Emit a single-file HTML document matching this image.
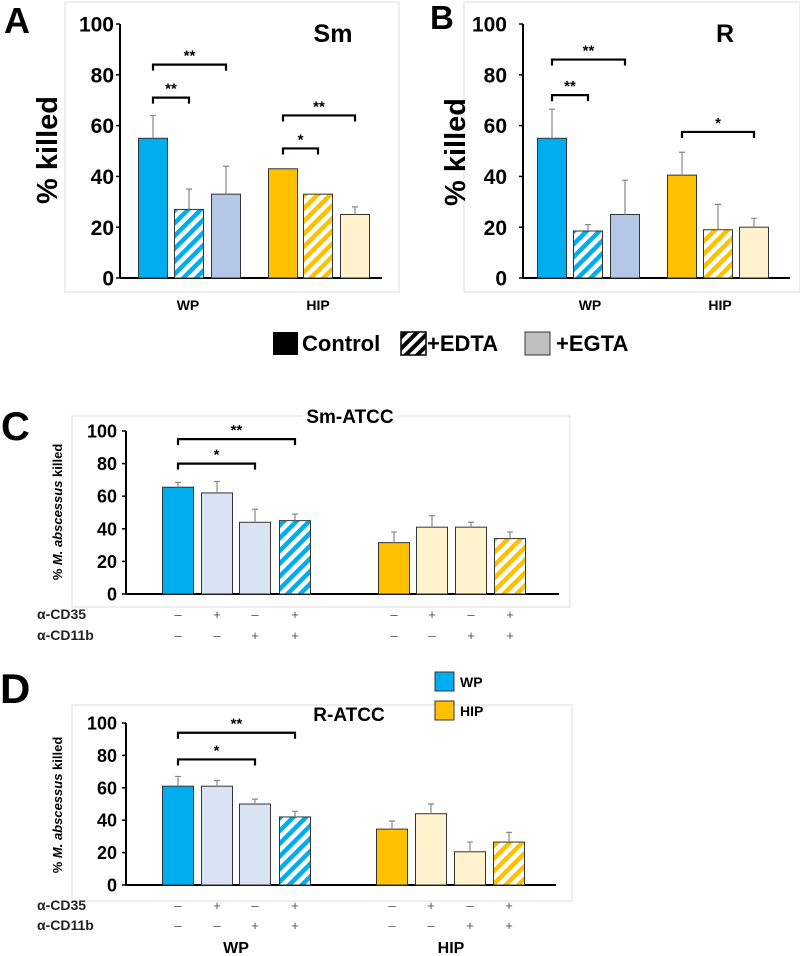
<!DOCTYPE html>
<html><head><meta charset="utf-8"><style>
html,body{margin:0;padding:0;background:#fff;}
svg{display:block;font-family:"Liberation Sans",sans-serif;}
</style></head><body>
<svg id="fig" width="800" height="956" viewBox="0 0 800 956" xmlns="http://www.w3.org/2000/svg">
<defs>
<pattern id="hb" patternUnits="userSpaceOnUse" width="9" height="9" patternTransform="rotate(45)"><rect width="9" height="9" fill="#fff"/><rect width="4.5" height="9" fill="#00AEEF"/></pattern>
<pattern id="ho" patternUnits="userSpaceOnUse" width="9" height="9" patternTransform="rotate(45)"><rect width="9" height="9" fill="#fff"/><rect width="4.5" height="9" fill="#FFC000"/></pattern>
<pattern id="hk" patternUnits="userSpaceOnUse" width="8" height="8" patternTransform="rotate(45)"><rect width="8" height="8" fill="#fff"/><rect width="4" height="8" fill="#000"/></pattern>
</defs>
</svg>
<script>
// ---- data ----
const abCategories = ["WP-Control","WP-EDTA","WP-EGTA","HIP-Control","HIP-EDTA","HIP-EGTA"];
const aValues = [55, 27, 33, 43, 33, 25];
const aErrors = [9, 8, 11, 0.3, 0, 3];
const bValues = [55, 18.5, 25, 40.5, 19, 20];
const bErrors = [11.5, 2.5, 13.5, 9, 10, 3.5];
const cdCategories = ["WP--","WP+-","WP-+","WP++","HIP--","HIP+-","HIP-+","HIP++"];
const cValues = [65.5, 62, 44, 45, 31.5, 41, 41, 34];
const cErrors = [3, 7, 8, 4, 6.5, 7, 3, 4];
const dValues = [61, 61, 50, 42, 34.5, 44, 20.5, 26.5];
const dErrors = [6, 3.5, 3, 3.5, 5, 6, 6, 6];
const yTicks = [0, 20, 40, 60, 80, 100];
const cd35Signs = ["–","+","–","+","–","+","–","+"];
const cd11Signs = ["–","–","+","+","–","–","+","+"];

const NS = "http://www.w3.org/2000/svg";
const svg = document.getElementById("fig");
function mk(tag, attrs, parent, txt){
  const e = document.createElementNS(NS, tag);
  for (const k in attrs) e.setAttribute(k, attrs[k]);
  if (txt !== undefined) e.textContent = txt;
  (parent || svg).appendChild(e);
  return e;
}
const abFills = ["#00AEEF","url(#hb)","#B4C7E7","#FFC000","url(#ho)","#FFF2CC"];
const cdFills = ["#00AEEF","#DAE3F3","#DAE3F3","url(#hb)","#FFC000","#FFF2CC","#FFF2CC","url(#ho)"];

function panel(p){
  const g = mk("g", {});
  
  
  const y = v => p.y0 - (p.y0 - p.y100) * v / 100;
  const fr = mk("rect", {x:p.fx, y:p.fy, width:p.fw, height:p.fh, fill:"none", stroke:"#e2e2e2", "stroke-width":1.2}, g);
  
  
  const ya = mk("line", {x1:p.ax, y1:p.y100, x2:p.ax, y2:p.y0, stroke:"#000", "stroke-width":2}, g);
  
  
  const xa = mk("line", {x1:p.ax, y1:p.y0, x2:p.xend, y2:p.y0, stroke:"#000", "stroke-width":2}, g);
  
  
  yTicks.forEach(t => {
    const tk = mk("line", {x1:p.ax-4, y1:y(t), x2:p.ax, y2:y(t), stroke:"#000", "stroke-width":1.5}, g);
    
    
    const tl = mk("text", {x:p.tlx, y:y(t)+p.tfs*0.36, "text-anchor":"end", "font-size":p.tfs, "font-weight":"bold", "font-family":p.tff}, g, String(t));
    
    
  });
  p.vals.forEach((v, i) => {
    const cx = p.cx[i];
    const b = mk("rect", {x:cx - p.bw/2, y:y(v), width:p.bw, height:p.y0 - y(v), fill:p.fills[i], stroke:"#333", "stroke-width":1}, g);
    
    
    const e = p.errs[i];
    if (e > 0.5) {
      const el = mk("path", {d:`M${cx} ${y(v)} V${y(v+e)} M${cx-3} ${y(v+e)} H${cx+3}`, stroke:"#888", "stroke-width":1.2, fill:"none"}, g);
      
      
    }
  });
  p.brackets.forEach(br => {
    const x1 = p.cx[br[0]], x2 = p.cx[br[1]], yy = y(br[2]);
    const pa = mk("path", {d:`M${x1} ${yy+6} V${yy} H${x2} V${yy+6}`, stroke:"#000", "stroke-width":2.2, fill:"none"}, g);
    
    
    const st = mk("text", {x:(x1+x2)/2, y:yy - 4, "text-anchor":"middle", "font-size":15, "font-weight":"bold"}, g, br[3]);
    
    
  });
  return g;
}

panel({name:"panel-a-sm", fx:65, fy:2, fw:334, fh:290, ax:120, y0:278, y100:24, xend:382,
  tlx:114, tfs:21, tff:"Liberation Sans",
  vals:aValues, errs:aErrors, cats:abCategories, fills:abFills, bw:29,
  cx:[153,189,226,283,318,355],
  brackets:[[0,2,84,"**"],[0,1,71,"**"],[3,5,64,"**"],[3,4,51,"*"]]});
panel({name:"panel-b-r", fx:464, fy:2, fw:336, fh:290, ax:523, y0:278, y100:24, xend:790,
  tlx:507, tfs:21, tff:"Liberation Sans",
  vals:bValues, errs:bErrors, cats:abCategories, fills:abFills, bw:29,
  cx:[552,588,625,682,718,754],
  brackets:[[0,2,86,"**"],[0,1,72,"**"],[3,5,57.5,"*"]]});
panel({name:"panel-c-sm-atcc", fx:72, fy:416, fw:498, fh:191, ax:126, y0:594, y100:431, xend:559,
  tlx:117, tfs:18, tff:"Liberation Sans Narrow, Liberation Sans",
  vals:cValues, errs:cErrors, cats:cdCategories, fills:cdFills, bw:31,
  cx:[178,217,255,295,394,432,471,510],
  brackets:[[0,3,95,"**"],[0,2,80,"*"]]});
panel({name:"panel-d-r-atcc", fx:72, fy:705, fw:500, fh:196, ax:126, y0:885, y100:723, xend:556,
  tlx:117, tfs:18, tff:"Liberation Sans Narrow, Liberation Sans",
  vals:dValues, errs:dErrors, cats:cdCategories, fills:cdFills, bw:31,
  cx:[178,217,255,295,392,431,470,509],
  brackets:[[0,3,94,"**"],[0,2,77.5,"*"]]});

function signs(yA, yB, cxs){
  [[yA, cd35Signs, "α-CD35"], [yB, cd11Signs, "α-CD11b"]].forEach(r => {
    const l = mk("text", {x:37, y:r[0]+5, "font-size":14, "font-weight":"bold", "font-family":"Liberation Sans Narrow, Liberation Sans", fill:"#222"}, svg, r[2]);
    
    
    r[1].forEach((s, i) => {
      const t = mk("text", {x:cxs[i], y:r[0]+5, "text-anchor":"middle", "font-size":13, fill:"#555"}, svg, s);
      
      
    });
  });
}
signs(614, 635, [178,217,255,295,394,432,471,510]);
signs(905, 925, [178,217,255,295,392,431,470,509]);
</script>
<svg style="position:absolute;left:0;top:0" width="800" height="956" xmlns="http://www.w3.org/2000/svg" font-family="Liberation Sans, sans-serif">
  <text x="4" y="33" font-size="36" font-weight="bold">A</text>
  <text x="430" y="29" font-size="33" font-weight="bold">B</text>
  <text x="1" y="440" font-size="40" font-weight="bold">C</text>
  <text x="0" y="703" font-size="42" font-weight="bold">D</text>
  <text x="333" y="42" font-size="25" font-weight="bold" text-anchor="middle">Sm</text>
  <text x="725" y="42" font-size="25" font-weight="bold" text-anchor="middle">R</text>
  <text transform="translate(57,150) rotate(-90)" font-size="29" font-weight="bold" text-anchor="middle">% killed</text>
  <text transform="translate(465,152) rotate(-90)" font-size="29" font-weight="bold" text-anchor="middle">% killed</text>
  <text x="188" y="310" font-size="14" font-weight="bold" text-anchor="middle">WP</text>
  <text x="318" y="310" font-size="14" font-weight="bold" text-anchor="middle">HIP</text>
  <text x="590" y="310" font-size="14" font-weight="bold" text-anchor="middle">WP</text>
  <text x="720" y="310" font-size="14" font-weight="bold" text-anchor="middle">HIP</text>
  <g>
    <rect x="273" y="332" width="25" height="23" fill="#000"/>
    <text x="302" y="351" font-size="22" font-weight="bold">Control</text>
    <rect x="401" y="332" width="25" height="23" fill="url(#hk)" stroke="#000" stroke-width="1.5"/>
    <text x="427" y="351" font-size="22" font-weight="bold">+EDTA</text>
    <rect x="525" y="332" width="25" height="23" fill="#bfbfbf" stroke="#333" stroke-width="1"/>
    <text x="556" y="351" font-size="22" font-weight="bold">+EGTA</text>
  </g>
  <rect x="303" y="404" width="94" height="22" fill="#fff"/>
  <text x="350" y="423" font-size="19" font-weight="bold" text-anchor="middle">Sm-ATCC</text>
  <text x="349" y="721" font-size="19" font-weight="bold" text-anchor="middle">R-ATCC</text>
  <text transform="translate(62,512) rotate(-90)" font-size="13" font-weight="bold" text-anchor="middle">% <tspan font-style="italic">M. abscessus</tspan> killed</text>
  <text transform="translate(62,805) rotate(-90)" font-size="13" font-weight="bold" text-anchor="middle">% <tspan font-style="italic">M. abscessus</tspan> killed</text>
  <g>
    <rect x="435" y="672" width="19" height="19" fill="#00AEEF" stroke="#333"/>
    <text x="460" y="687" font-size="14" font-weight="bold">WP</text>
    <rect x="435" y="701" width="19" height="19" fill="#FFC000" stroke="#333"/>
    <text x="460" y="716" font-size="14" font-weight="bold">HIP</text>
  </g>
  <text x="236" y="953" font-size="16" font-weight="bold" text-anchor="middle">WP</text>
  <text x="451" y="953" font-size="16" font-weight="bold" text-anchor="middle">HIP</text>
</svg>
</body></html>
